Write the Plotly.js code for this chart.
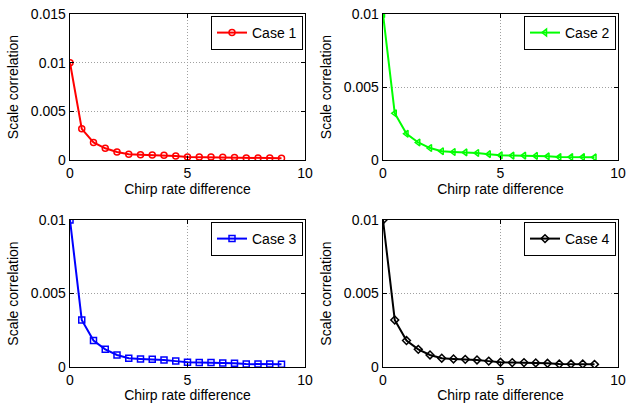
<!DOCTYPE html>
<html>
<head>
<meta charset="utf-8">
<script src="https://cdn.plot.ly/plotly-3.0.1.min.js"></script>
<style>html,body{margin:0;padding:0;background:#fff;}#chart{width:626px;height:403px;}</style>
</head>
<body>
<div id="chart"></div>
<script>
const chirpDiff = [0, 0.5, 1, 1.5, 2, 2.5, 3, 3.5, 4, 4.5, 5, 5.5, 6, 6.5, 7, 7.5, 8, 8.5, 9];
const case1 = [0.01, 0.0032, 0.0018, 0.0012, 0.00082, 0.0006, 0.00055, 0.00052, 0.00048, 0.0004, 0.00032, 0.0003, 0.0003, 0.00028, 0.00025, 0.0002, 0.0002, 0.0002, 0.00018];
const case2 = [0.01, 0.0032, 0.0018, 0.0012, 0.00082, 0.0006, 0.00055, 0.00052, 0.00048, 0.0004, 0.00032, 0.0003, 0.0003, 0.00028, 0.00025, 0.0002, 0.0002, 0.0002, 0.00018];
const case3 = [0.01, 0.0032, 0.0018, 0.0012, 0.00082, 0.0006, 0.00055, 0.00052, 0.00048, 0.0004, 0.00032, 0.0003, 0.0003, 0.00028, 0.00025, 0.0002, 0.0002, 0.0002, 0.00018];
const case4 = [0.01, 0.0032, 0.0018, 0.0012, 0.00082, 0.0006, 0.00055, 0.00052, 0.00048, 0.0004, 0.00032, 0.0003, 0.0003, 0.00028, 0.00025, 0.0002, 0.0002, 0.0002, 0.00018];
const caseNames = ['Case 1', 'Case 2', 'Case 3', 'Case 4'];
const xTickVals = [0, 5, 10];
const xTickText = ['0', '5', '10'];
const yTickVals1 = [0, 0.005, 0.01, 0.015];
const yTickText1 = ['0', '0.005', '0.01', '0.015'];
const yTickVals = [0, 0.005, 0.01];
const yTickText = ['0', '0.005', '0.01'];
const xTitle = 'Chirp rate difference';
const yTitle = 'Scale correlation';

const colors = ['#ff0000', '#00ff00', '#0000ff', '#000000'];
const symbols = ['circle-open', 'triangle-left-open', 'square-open', 'diamond-open'];
const series = [case1, case2, case3, case4];
const axes = [['x', 'y'], ['x2', 'y2'], ['x3', 'y3'], ['x4', 'y4']];
const legends = ['legend', 'legend2', 'legend3', 'legend4'];

const traces = series.map((s, i) => ({
  x: chirpDiff, y: s, type: 'scatter', mode: 'lines+markers',
  name: caseNames[i], xaxis: axes[i][0], yaxis: axes[i][1], legend: legends[i],
  line: {color: colors[i], width: 2},
  marker: {symbol: symbols[i], color: colors[i], size: 6, line: {width: 1.5, color: colors[i]}}
}));

const font = {family: 'Liberation Sans, Arial, sans-serif', color: '#000'};
function xax(dom, anchor) {
  return {domain: dom, anchor: anchor, range: [0, 10], tickvals: xTickVals, ticktext: xTickText,
    ticks: 'inside', ticklen: 4, tickcolor: '#000', showline: true, linecolor: '#000', linewidth: 1.3, mirror: 'ticks',
    showgrid: true, gridcolor: '#a0a0a0', griddash: '1px,2px', gridwidth: 1, zeroline: false,
    tickfont: {size: 14, family: font.family, color: '#000'},
    title: {text: xTitle, font: {size: 14, family: font.family, color: '#000'}, standoff: 1}};
}
function yax(dom, anchor, range, tv, tt) {
  return {domain: dom, anchor: anchor, range: range, tickvals: tv, ticktext: tt,
    ticks: 'inside', ticklen: 4, tickcolor: '#000', showline: true, linecolor: '#000', linewidth: 1.3, mirror: 'ticks',
    showgrid: true, gridcolor: '#a0a0a0', griddash: '1px,2px', gridwidth: 1, zeroline: false,
    tickfont: {size: 14, family: font.family, color: '#000'},
    title: {text: yTitle, font: {size: 14, family: font.family, color: '#000'}, standoff: 9}};
}
const xd1 = [70/626, 305/626], xd2 = [383/626, 618/626];
const yd1 = [1 - 160/403, 1 - 14/403], yd2 = [1 - 367/403, 1 - 220/403];
function leg(xr, yt) {
  return {x: xr, y: yt, xanchor: 'right', yanchor: 'top', bgcolor: '#fff', bordercolor: '#000', borderwidth: 1,
    font: {size: 14, family: font.family, color: '#000'}, itemwidth: 30, tracegroupgap: 0};
}
const layout = {
  width: 626, height: 403, margin: {l: 0, r: 0, t: 0, b: 0},
  paper_bgcolor: '#fff', plot_bgcolor: '#fff', font: font,
  xaxis: xax(xd1, 'y'), yaxis: yax(yd1, 'x', [0, 0.015], yTickVals1, yTickText1),
  xaxis2: xax(xd2, 'y2'), yaxis2: yax(yd1, 'x2', [0, 0.01], yTickVals, yTickText),
  xaxis3: xax(xd1, 'y3'), yaxis3: yax(yd2, 'x3', [0, 0.01], yTickVals, yTickText),
  xaxis4: xax(xd2, 'y4'), yaxis4: yax(yd2, 'x4', [0, 0.01], yTickVals, yTickText),
  legend: leg(303/626, 1 - 16/403),
  legend2: leg(616/626, 1 - 16/403),
  legend3: leg(303/626, 1 - 222/403),
  legend4: leg(616/626, 1 - 222/403),
  showlegend: true
};
Plotly.newPlot('chart', traces, layout, {displayModeBar: false, staticPlot: true});
</script>
</body>
</html>
